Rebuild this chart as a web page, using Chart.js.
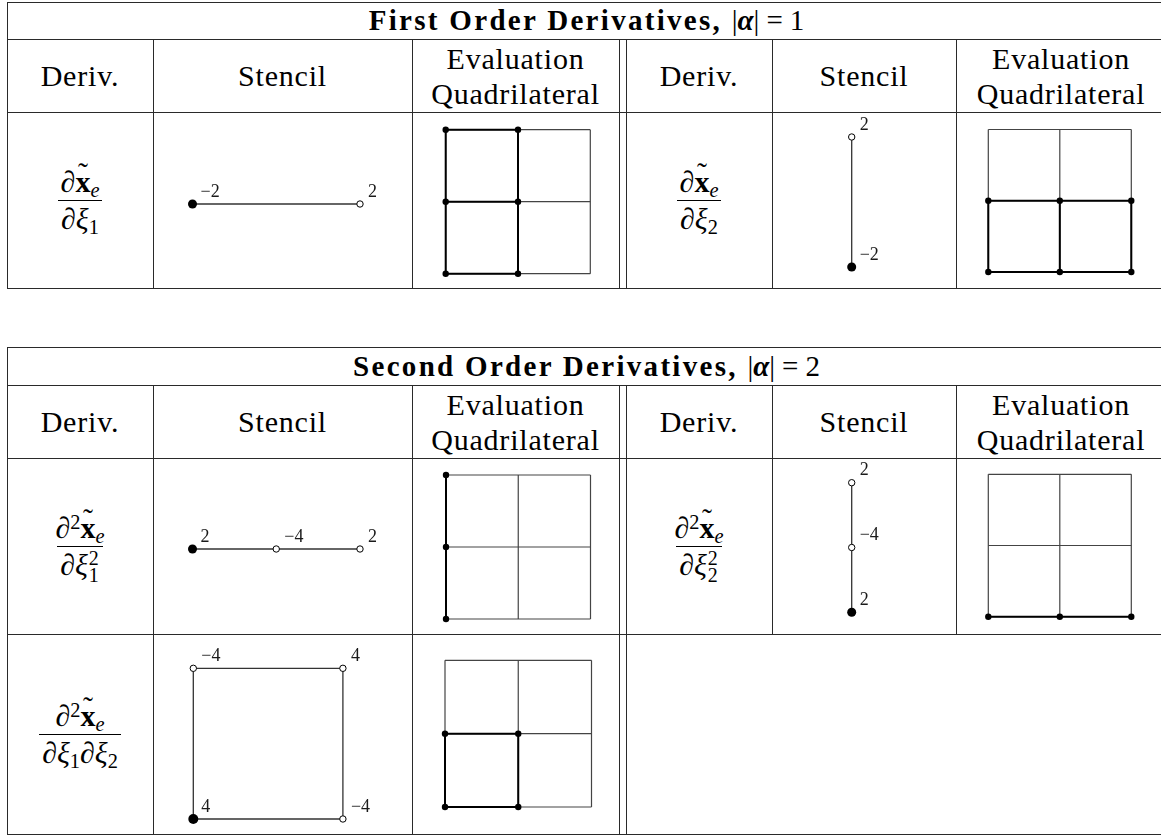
<!DOCTYPE html>
<html>
<head>
<meta charset="utf-8">
<script src="https://cdn.jsdelivr.net/npm/chart.js@4.4.1/dist/chart.umd.min.js"></script>
<style>
html, body { margin: 0; padding: 0; background: #fff; }
body { width: 1161px; height: 835px; overflow: hidden; position: relative;
       font-family: 'Liberation Serif', 'Times New Roman', serif; color: #000; }
.ln { position: absolute; background: #2a2a2a; }
.cell { position: absolute; display: flex; align-items: center; justify-content: center;
        text-align: center; font-family: 'Liberation Serif', 'Times New Roman', serif;
        font-size: 30px; line-height: 35px; letter-spacing: 0.8px; }
.title { font-weight: bold; font-size: 29px; letter-spacing: 2.3px; }
.title .m { font-weight: normal; letter-spacing: 0; }
.title .eq { margin: 0 7px; }
.frac { display: inline-flex; flex-direction: column; align-items: center; font-size: 30px;
        letter-spacing: 0; line-height: 34px; }
.frac .num { padding: 0 3px 1px; }
.frac .den { border-top: 1.5px solid #000; padding: 1px 3px 0; }
.frac i { font-style: italic; }
.bx { font-weight: bold; position: relative; display: inline-block; }
.bx::before { content: "\02DC"; position: absolute; left: 0; right: 0; top: -9px;
              text-align: center; font-weight: normal; font-size: 30px; }
.frac sub { font-size: 0.68em; vertical-align: -0.25em; line-height: 0; font-style: italic; }
.frac sub.n { font-style: normal; }
.frac sup { font-size: 0.68em; vertical-align: 0.45em; line-height: 0; }
.ss { position: relative; display: inline-block; width: 12px; height: 0; font-size: 20px; line-height: 20px; }
.ss span { position: absolute; left: 1px; }
.ss .s1 { top: -27px; }
.ss .s2 { top: -10px; }
.plot { position: absolute; }
</style>
</head>
<body>
<script>
// ---------- data ----------
// stencil nodes in (xi1, xi2) units; node 0 is the base (filled) node
const d1Xi1X = [0, 1];
const d1Xi1Y = [0, 0];
const d1Xi1W = [-2, 2];

const d1Xi2X = [0, 0];
const d1Xi2Y = [0, 1];
const d1Xi2W = [-2, 2];

const d2Xi1X = [0, 1, 2];
const d2Xi1Y = [0, 0, 0];
const d2Xi1W = [2, -4, 2];

const d2Xi2X = [0, 0, 0];
const d2Xi2Y = [0, 1, 2];
const d2Xi2W = [2, -4, 2];

// mixed stencil, listed round the loop
const d2MixX = [0, 1, 1, 0];
const d2MixY = [0, 0, 1, 1];
const d2MixW = [4, -4, 4, -4];

// evaluation quadrilateral: 2x2 cells, node indices 0..2
const quadTicks = [0, 1, 2];
// highlighted nodes: [xFrom, xTo, yFrom, yTo]
const evalD1Xi1 = [0, 1, 0, 2];
const evalD1Xi2 = [0, 2, 0, 1];
const evalD2Xi1 = [0, 0, 0, 2];
const evalD2Xi2 = [0, 2, 0, 0];
const evalD2Mix = [0, 1, 0, 1];

const titleText = ['First Order Derivatives,', 'Second Order Derivatives,'];
const titleOrder = [1, 2];
const headerText = ['Deriv.', 'Stencil', 'Evaluation<br>Quadrilateral'];

// ---------- layout helpers ----------
const body = document.body;

function line(x, y, w, h) {
    const d = document.createElement('div');
    d.className = 'ln';
    d.style.left = x + 'px'; d.style.top = y + 'px';
    d.style.width = w + 'px'; d.style.height = h + 'px';
    body.appendChild(d);
}

function cell(x0, y0, x1, y1, html, cls) {
    const d = document.createElement('div');
    d.className = 'cell' + (cls ? ' ' + cls : '');
    d.style.left = x0 + 'px'; d.style.top = y0 + 'px';
    d.style.width = (x1 - x0) + 'px'; d.style.height = (y1 - y0) + 'px';
    d.innerHTML = '<span>' + html + '</span>';
    body.appendChild(d);
}

const colX = [7, 153, 412, 619, 626, 772, 956, 1166];
const RIGHT = 1161;

function tableFrame(top, titleB, headB, rowBs) {
    const bottom = rowBs[rowBs.length - 1];
    [top, titleB, headB].concat(rowBs).forEach(y => line(colX[0], y, RIGHT - colX[0], 1));
    line(colX[0], top, 1, bottom - top + 1);
    [colX[1], colX[2], colX[3], colX[4]].forEach(x => line(x, titleB, 1, bottom - titleB));
    // right half columns stop where its cells stop
    [colX[5], colX[6]].forEach(x => line(x, titleB, 1, rowBs[0] - titleB));
}

function titleHtml(i) {
    return titleText[i] + ' <span class="m">|<b><i>α</i></b>|<span class="eq">=</span>' + titleOrder[i] + '</span>';
}

function headerRow(y0, y1) {
    cell(colX[0], y0, colX[1], y1, headerText[0]);
    cell(colX[1], y0, colX[2], y1, headerText[1]);
    cell(colX[2], y0, colX[3], y1, headerText[2]);
    cell(colX[4], y0, colX[5], y1, headerText[0]);
    cell(colX[5], y0, colX[6], y1, headerText[1]);
    cell(colX[6], y0, colX[7], y1, headerText[2]);
}

const X = '<span class="bx">x</span><sub>e</sub>';
function frac(num, den) {
    return '<span class="frac"><span class="num">' + num + '</span><span class="den">' + den + '</span></span>';
}
function sq(k) { return '<span class="ss"><span class="s1">2</span><span class="s2">' + k + '</span></span>'; }
const mathD1Xi1 = frac('<i>∂</i>' + X, '<i>∂ξ</i><sub class="n">1</sub>');
const mathD1Xi2 = frac('<i>∂</i>' + X, '<i>∂ξ</i><sub class="n">2</sub>');
const mathD2Xi1 = frac('<i>∂</i><sup>2</sup>' + X, '<i>∂ξ</i>' + sq(1));
const mathD2Xi2 = frac('<i>∂</i><sup>2</sup>' + X, '<i>∂ξ</i>' + sq(2));
const mathD2Mix = frac('<i>∂</i><sup>2</sup>' + X, '<i>∂ξ</i><sub class="n">1</sub><i>∂ξ</i><sub class="n">2</sub>');

// ---------- tables ----------
tableFrame(2, 39, 112, [288]);
cell(colX[0], 2, colX[7], 39, titleHtml(0), 'title');
headerRow(39, 112);
cell(colX[0], 112, colX[1], 288, mathD1Xi1);
cell(colX[4], 112, colX[5], 288, mathD1Xi2);

tableFrame(347, 385, 458, [634, 834]);
cell(colX[0], 347, colX[7], 385, titleHtml(1), 'title');
headerRow(385, 458);
cell(colX[0], 458, colX[1], 634, mathD2Xi1);
cell(colX[4], 458, colX[5], 634, mathD2Xi2);
cell(colX[0], 634, colX[1], 834, mathD2Mix);

// ---------- charts ----------
const weightLabels = {
    id: 'weightLabels',
    afterDatasetsDraw(chart, args, opts) {
        if (!opts.w) return;
        const { ctx, scales } = chart;
        ctx.save();
        ctx.font = "18px 'Liberation Serif', serif";
        ctx.fillStyle = '#1a1a1a';
        ctx.textBaseline = 'middle';
        opts.w.forEach((w, i) => {
            const px = scales.x.getPixelForValue(opts.xs[i]);
            const py = scales.y.getPixelForValue(opts.ys[i]);
            const txt = w < 0 ? '\u2212' + Math.abs(w) : String(w);
            ctx.fillText(txt, px + 8, py - 12);
        });
        ctx.restore();
    }
};

// box = page pixels that the data range maps onto
function plot(box, xr, yr, datasets, labelOpts) {
    const pad = 34;
    const left = Math.floor(box[0]) - pad, top = Math.floor(box[2]) - pad;
    const width = Math.ceil(box[1]) + pad - left, height = Math.ceil(box[3]) + pad - top;
    const holder = document.createElement('div');
    holder.className = 'plot';
    holder.style.left = left + 'px'; holder.style.top = top + 'px';
    const cv = document.createElement('canvas');
    cv.width = width; cv.height = height;
    cv.style.width = width + 'px'; cv.style.height = height + 'px';
    holder.appendChild(cv);
    body.appendChild(holder);
    new Chart(cv, {
        type: 'scatter',
        data: { datasets: datasets },
        options: {
            responsive: false,
            animation: false,
            devicePixelRatio: 1,
            events: [],
            layout: { padding: {
                left: box[0] - left, right: left + width - box[1],
                top: box[2] - top, bottom: top + height - box[3] } },
            scales: {
                x: { type: 'linear', display: false, min: xr[0], max: xr[1] },
                y: { type: 'linear', display: false, min: yr[0], max: yr[1] }
            },
            plugins: { legend: { display: false }, tooltip: { enabled: false },
                       weightLabels: labelOpts || {} }
        },
        plugins: [weightLabels]
    });
}

function pts(xs, ys) { return xs.map((x, i) => ({ x: x, y: ys[i] })); }

function stencil(box, xr, yr, xs, ys, ws, closed, baseR) {
    const path = pts(xs, ys);
    if (closed) path.push(path[0]);
    const nodes = pts(xs, ys);
    plot(box, xr, yr, [
        { data: nodes.slice(0, 1), pointRadius: baseR || 4.5, pointBackgroundColor: '#000',
          pointBorderColor: '#000', pointBorderWidth: 0, clip: false, order: 0 },
        { data: nodes.slice(1), pointRadius: 3.2, pointBackgroundColor: '#fff',
          pointBorderColor: '#000', pointBorderWidth: 1, clip: false, order: 0 },
        { data: path, showLine: true, borderColor: '#333', borderWidth: 1.3,
          pointRadius: 0, clip: false, order: 1 }
    ], { xs: xs, ys: ys, w: ws });
}

function seg(a, b, bold) {
    return { data: [a, b], showLine: true, pointRadius: 0, clip: false,
             borderColor: bold ? '#000' : '#444', borderWidth: bold ? 2 : 1.2, order: bold ? 1 : 2 };
}

function quad(box, hi) {
    const lo = quadTicks[0], hiT = quadTicks[quadTicks.length - 1];
    const ds = [];
    quadTicks.forEach(t => {
        ds.push(seg({ x: t, y: lo }, { x: t, y: hiT }, false));
        ds.push(seg({ x: lo, y: t }, { x: hiT, y: t }, false));
    });
    quadTicks.forEach(t => {
        if (t >= hi[0] && t <= hi[1] && hi[2] < hi[3]) ds.push(seg({ x: t, y: hi[2] }, { x: t, y: hi[3] }, true));
        if (t >= hi[2] && t <= hi[3] && hi[0] < hi[1]) ds.push(seg({ x: hi[0], y: t }, { x: hi[1], y: t }, true));
    });
    const dots = [];
    quadTicks.forEach(tx => quadTicks.forEach(ty => {
        if (tx >= hi[0] && tx <= hi[1] && ty >= hi[2] && ty <= hi[3]) dots.push({ x: tx, y: ty });
    }));
    ds.unshift({ data: dots, pointRadius: 3.2, pointBackgroundColor: '#000', pointBorderWidth: 0,
                 clip: false, order: 0 });
    plot(box, [lo, hiT], [lo, hiT], ds);
}

// first order
stencil([192.5, 360, 174, 234], [0, 1], [-1, 1], d1Xi1X, d1Xi1Y, d1Xi1W, false);
quad([445.7, 590.3, 129.7, 273.7], evalD1Xi1);
stencil([831.7, 871.7, 137, 267], [-1, 1], [0, 1], d1Xi2X, d1Xi2Y, d1Xi2W, false);
quad([988.3, 1131.3, 129.5, 272], evalD1Xi2);

// second order
stencil([192.5, 360, 519, 579], [0, 2], [-1, 1], d2Xi1X, d2Xi1Y, d2Xi1W, false);
quad([446, 590.5, 475, 619], evalD2Xi1);
stencil([831.7, 871.7, 482.7, 612.3], [-1, 1], [0, 2], d2Xi2X, d2Xi2Y, d2Xi2W, false);
quad([988.3, 1131.3, 474.3, 616.7], evalD2Xi2);
stencil([193.3, 342.9, 668.3, 819], [0, 1], [0, 1], d2MixX, d2MixY, d2MixW, true, 5);
quad([445, 591.5, 660.3, 807], evalD2Mix);
</script>
</body>
</html>
